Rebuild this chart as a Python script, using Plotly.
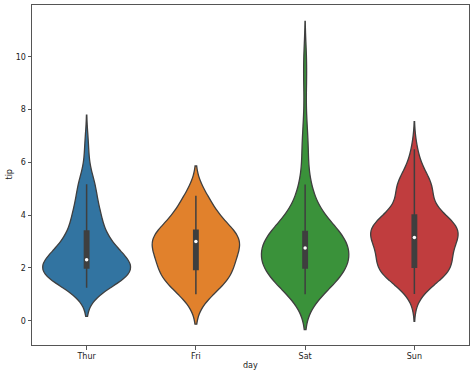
import numpy as np
import plotly.graph_objects as go

days = ["Thur", "Fri", "Sat", "Sun"]
colors = ["#3274a1", "#e1812c", "#3a923a", "#c03d3e"]

tips_thur = [4.00, 3.00, 2.71, 3.00, 3.40, 1.83, 5.00, 2.03, 5.17, 2.00, 4.00, 5.85, 3.00,
             1.50, 1.80, 2.92, 2.31, 1.68, 2.50, 2.00, 2.52, 4.20, 1.48, 2.00, 2.00, 2.18,
             1.50, 2.83, 1.50, 2.00, 3.25, 1.25, 2.00, 2.00, 2.00, 2.75, 3.50, 6.70, 5.00,
             5.00, 2.30, 1.50, 1.36, 1.63, 1.73, 2.00, 4.19, 2.56, 2.02, 4.00, 1.44, 2.00,
             5.00, 2.00, 2.00, 4.00, 2.01, 2.00, 2.50, 4.00, 3.23, 3.00]
tips_fri = [3.00, 3.50, 1.00, 4.30, 3.25, 4.73, 4.00, 1.50, 3.00, 1.50, 2.50, 3.00,
            2.20, 3.48, 1.92, 3.00, 1.58, 2.50, 2.00]
tips_sat = [3.35, 4.08, 2.75, 2.23, 7.58, 3.18, 2.34, 2.00, 2.00, 4.30, 3.00, 1.45, 2.50,
            3.00, 2.45, 3.27, 3.60, 2.00, 3.07, 2.31, 5.00, 2.24,
            3.00, 1.50, 1.76, 6.73, 3.21, 2.00, 1.98, 3.76, 2.64, 3.15, 2.47, 1.00, 2.01,
            2.09, 1.97, 3.00, 3.14, 5.00, 2.20, 1.25, 3.08,
            2.50, 3.48, 4.08, 1.64, 4.06, 4.29, 3.76, 4.00, 3.00, 1.00,
            1.61, 2.00, 10.00, 3.16,
            3.41, 3.00, 2.03, 2.23, 2.00, 5.16, 9.00, 2.50, 6.50, 1.10, 3.00, 1.50, 1.44, 3.09,
            3.00, 2.72, 2.88, 2.00, 3.00, 3.39, 1.47, 3.00, 1.25, 1.00, 1.17, 4.67, 5.92,
            2.00, 2.00, 1.75]
tips_sun = [1.01, 1.66, 3.50, 3.31, 3.61, 4.71, 2.00, 3.12, 1.96, 3.23, 1.71, 5.00, 1.57,
            3.00, 3.02, 3.92, 1.67, 3.71, 3.50,
            2.54, 3.06, 1.32, 5.60, 3.00, 5.00, 6.00, 2.05, 3.00, 2.50, 2.60, 5.20, 1.56,
            4.34, 3.51,
            4.00, 2.55, 4.00, 3.50, 5.07,
            2.50, 2.00, 2.74, 2.00, 2.00, 5.14, 5.00, 3.75, 2.61, 2.00, 3.50, 2.50, 2.00,
            2.00, 3.00, 3.48, 2.24, 4.50,
            5.15, 3.18, 4.00, 3.11, 2.00, 2.00, 4.00, 3.55, 3.68, 5.65, 3.50, 6.50, 3.00,
            5.00, 3.50, 2.00, 3.50, 4.00, 1.50]

series = [tips_thur, tips_fri, tips_sat, tips_sun]

EDGE = "#3f3f3f"
fig = go.Figure()
for day, vals, col in zip(days, series, colors):
    v = np.asarray(vals)
    bw = v.std(ddof=1) * len(v) ** (-0.2)
    fig.add_trace(go.Violin(
        x=[day] * len(v), y=v, name=day,
        fillcolor=col, opacity=1,
        line=dict(color=EDGE, width=1.3),
        bandwidth=bw, spanmode="soft",
        width=0.8, scalemode="width",
        points=False, hoverinfo="skip",
        box=dict(visible=True, width=0.05, fillcolor=EDGE,
                 line=dict(color=EDGE, width=1.5)),
        meanline=dict(visible=False),
        showlegend=False,
    ))
    fig.add_trace(go.Scatter(
        x=[day], y=[float(np.median(v))], mode="markers",
        marker=dict(color="white", size=3.5, line=dict(width=0)),
        showlegend=False, hoverinfo="skip",
    ))

FONT = dict(family="DejaVu Sans", size=8, color="#222222")
axis_common = dict(
    showline=True, linecolor="#555555", linewidth=1, mirror=True,
    ticks="outside", ticklen=3.5, tickwidth=0.8, tickcolor="#555555",
    showgrid=False, zeroline=False, automargin=False,
    tickfont=FONT,
)
fig.update_layout(
    width=474, height=374,
    margin=dict(l=32, r=5, t=5, b=29),
    plot_bgcolor="white", paper_bgcolor="white",
    violinmode="overlay",
    xaxis=dict(categoryorder="array", categoryarray=days, range=[-0.5, 3.5],
               **axis_common),
    yaxis=dict(range=[-0.92, 11.96], tickvals=[0, 2, 4, 6, 8, 10],
               **axis_common),
    annotations=[
        dict(text="day", xref="paper", yref="paper", x=0.5, y=0,
             yshift=-14, yanchor="top", showarrow=False, font=FONT),
        dict(text="tip", xref="paper", yref="paper", x=0, y=0.5,
             xshift=-17, xanchor="right", textangle=-90, showarrow=False, font=FONT),
    ],
)
fig.write_html("out.html", config={"displayModeBar": False},
               post_script="document.body.style.margin='0';")
